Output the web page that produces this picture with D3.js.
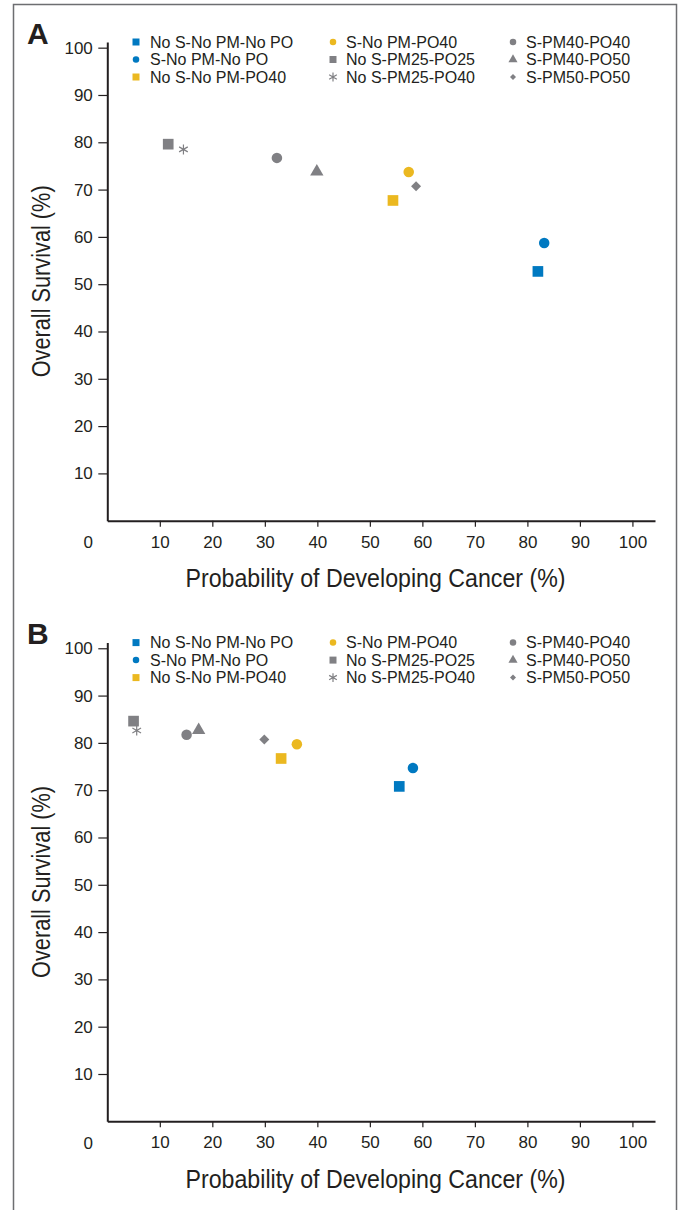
<!DOCTYPE html>
<html>
<head>
<meta charset="utf-8">
<script src="https://cdn.jsdelivr.net/npm/d3@7"></script>
<style>
    body { margin: 0; background: #fff; }
    svg { display: block; }
    text { font-family: "Liberation Sans", Arial, Helvetica, sans-serif; fill: #231f20; }
</style>
</head>
<body>
<svg id="chart"></svg>
<script>
// series, in legend order (column by column)
var seriesNames = [
    "No S-No PM-No PO", "S-No PM-No PO", "No S-No PM-PO40",
    "S-No PM-PO40", "No S-PM25-PO25", "No S-PM25-PO40",
    "S-PM40-PO40", "S-PM40-PO50", "S-PM50-PO50"
];

// panel A: probability of developing cancer (%), overall survival (%)
var cancerA = [82.0, 83.2, 54.4, 57.4, 11.6, 14.5, 32.3, 39.9, 58.8];
var survivalA = [52.7, 58.7, 67.7, 73.7, 79.6, 78.5, 76.7, 73.8, 70.7];

// panel B
var cancerB = [55.6, 58.2, 33.1, 36.1, 5.0, 5.6, 15.1, 17.4, 29.9];
var survivalB = [70.8, 74.7, 76.7, 79.7, 84.6, 82.6, 81.7, 82.7, 80.7];

var tickValues = [10, 20, 30, 40, 50, 60, 70, 80, 90, 100];

// styles per series
var colors = ["#0079c1", "#0079c1", "#ebb820", "#ebb820", "#808084", "#808084", "#808084", "#808084", "#808084"];
var shapes = ["square", "circle", "square", "circle", "square", "asterisk", "circle", "triangle", "diamond"];

var w = 681;
var h = 1210;

var svg = d3.select("#chart")
    .attr("width", w)
    .attr("height", h);

svg.append("rect")
    .attr("width", w)
    .attr("height", h)
    .attr("fill", "#fff");

// outer frame (runs off the bottom)
svg.append("rect")
    .attr("x", 13.5)
    .attr("y", 4.5)
    .attr("width", 663)
    .attr("height", 1220)
    .attr("fill", "none")
    .attr("stroke", "#6d6e71")
    .attr("stroke-width", 1.5);

var symbolTypes = {
    square: d3.symbolSquare,
    circle: d3.symbolCircle,
    triangle: d3.symbolTriangle,
    diamond: d3.symbolSquare,
    asterisk: d3.symbolAsterisk
};
var plotSizes = { square: 114, circle: 87, triangle: 77, diamond: 50, asterisk: 70 };
var legendSizes = { square: 49, circle: 33, triangle: 36, diamond: 18, asterisk: 55 };

function drawMark(sel, shape, color, size) {
    sel.attr("d", d3.symbol().type(symbolTypes[shape]).size(size)())
        .attr("fill", shape == "asterisk" ? "none" : color)
        .attr("stroke", shape == "asterisk" ? color : "none")
        .attr("stroke-width", shape == "asterisk" ? 1.2 : 0);
}

function drawPanel(label, cancer, survival, top) {
    var g = svg.append("g")
        .attr("transform", "translate(0," + top + ")");

    var x = d3.scaleLinear().domain([0, 104.3]).range([107.3, 655]);
    var y = d3.scaleLinear().domain([0, 101.2]).range([520.7, 42]);

    // y axis
    var yAxis = g.append("g")
        .attr("transform", "translate(" + x(0) + ",0)")
        .call(d3.axisLeft(y).tickValues(tickValues).tickSize(9).tickSizeOuter(0).tickPadding(5.5));
    // x axis
    var xAxis = g.append("g")
        .attr("transform", "translate(0," + y(0) + ")")
        .call(d3.axisBottom(x).tickValues(tickValues).tickSize(6).tickSizeOuter(0).tickPadding(9));

    [xAxis, yAxis].forEach(function (a) {
        a.select(".domain").attr("stroke", "#231f20").attr("stroke-width", 2);
        a.selectAll(".tick line").attr("stroke", "#231f20").attr("stroke-width", 1.2);
        a.selectAll(".tick text")
            .attr("fill", "#231f20")
            .attr("font-size", "17px")
            .attr("font-family", "Liberation Sans, Arial, sans-serif");
    });

    // shared origin label
    g.append("text")
        .text("0")
        .attr("x", 88.3)
        .attr("y", 548.3)
        .attr("text-anchor", "middle")
        .attr("font-size", "17px");

    // panel letter
    g.append("text")
        .text(label)
        .attr("x", 27)
        .attr("y", 43.6)
        .attr("font-size", "30px")
        .attr("font-weight", "bold");

    // axis titles
    g.append("text")
        .text("Overall Survival (%)")
        .attr("transform", "translate(50," + y(50.6) + ") rotate(-90)")
        .attr("text-anchor", "middle")
        .attr("font-size", "25px")
        .attr("textLength", 192)
        .attr("lengthAdjust", "spacingAndGlyphs");

    g.append("text")
        .text("Probability of Developing Cancer (%)")
        .attr("x", 375.5)
        .attr("y", 587)
        .attr("text-anchor", "middle")
        .attr("font-size", "25px")
        .attr("textLength", 380)
        .attr("lengthAdjust", "spacingAndGlyphs");

    // points
    g.selectAll("path.point")
        .data(seriesNames)
        .enter()
        .append("path")
        .attr("class", "point")
        .each(function (d, i) {
            drawMark(d3.select(this), shapes[i], colors[i], plotSizes[shapes[i]]);
        })
        .attr("transform", function (d, i) {
            return "translate(" + x(cancer[i]) + "," + y(survival[i]) + ")" +
                (shapes[i] == "diamond" ? " rotate(45)" : "");
        });

    // legend, 3 columns x 3 rows
    var colMark = [136, 333, 513];
    var colText = [150, 346, 526];
    var rowY = [42, 59.5, 77];

    var items = g.selectAll("g.legend")
        .data(seriesNames)
        .enter()
        .append("g")
        .attr("class", "legend")
        .attr("transform", function (d, i) {
            return "translate(0," + rowY[i % 3] + ")";
        });

    items.append("path")
        .each(function (d, i) {
            drawMark(d3.select(this), shapes[i], colors[i], legendSizes[shapes[i]]);
        })
        .attr("transform", function (d, i) {
            return "translate(" + colMark[Math.floor(i / 3)] + ",0)" +
                (shapes[i] == "diamond" ? " rotate(45)" : "");
        });

    items.append("text")
        .text(function (d) { return d; })
        .attr("x", function (d, i) { return colText[Math.floor(i / 3)]; })
        .attr("dy", "0.36em")
        .attr("font-size", "16px");
}

drawPanel("A", cancerA, survivalA, 0);
drawPanel("B", cancerB, survivalB, 600.6);
</script>
</body>
</html>
